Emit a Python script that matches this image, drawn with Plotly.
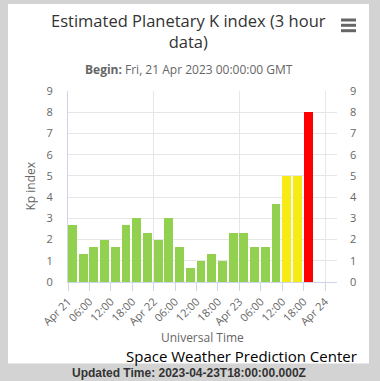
import plotly.graph_objects as go

# ---- data ----
times = [
    "2023-04-21 00:00", "2023-04-21 03:00", "2023-04-21 06:00", "2023-04-21 09:00",
    "2023-04-21 12:00", "2023-04-21 15:00", "2023-04-21 18:00", "2023-04-21 21:00",
    "2023-04-22 00:00", "2023-04-22 03:00", "2023-04-22 06:00", "2023-04-22 09:00",
    "2023-04-22 12:00", "2023-04-22 15:00", "2023-04-22 18:00", "2023-04-22 21:00",
    "2023-04-23 00:00", "2023-04-23 03:00", "2023-04-23 06:00", "2023-04-23 09:00",
    "2023-04-23 12:00", "2023-04-23 15:00", "2023-04-23 18:00",
]
kp = [2.67, 1.33, 1.67, 2.0, 1.67, 2.67, 3.0, 2.33,
      2.0, 3.0, 1.67, 0.67, 1.0, 1.33, 1.0, 2.33,
      2.33, 1.67, 1.67, 3.67, 5.0, 5.0, 8.0]

tick_vals = ["2023-04-21 00:00", "2023-04-21 06:00", "2023-04-21 12:00", "2023-04-21 18:00",
             "2023-04-22 00:00", "2023-04-22 06:00", "2023-04-22 12:00", "2023-04-22 18:00",
             "2023-04-23 00:00", "2023-04-23 06:00", "2023-04-23 12:00", "2023-04-23 18:00",
             "2023-04-24 00:00"]
tick_text = ["Apr 21", "06:00", "12:00", "18:00", "Apr 22", "06:00", "12:00", "18:00",
             "Apr 23", "06:00", "12:00", "18:00", "Apr 24"]
day_lines = ["2023-04-22 00:00", "2023-04-23 00:00", "2023-04-24 00:00"]
y_ticks = list(range(0, 10))

title = "Estimated Planetary K index (3 hour<br>data)"
subtitle = "<b>Begin:</b> Fri, 21 Apr 2023 00:00:00 GMT"
x_title = "Universal Time"
y_title = "Kp index"
credit = "Space Weather Prediction Center"
updated = "<b>Updated Time: 2023-04-23T18:00:00.000Z</b>"


def kp_color(v):
    if v < 5:
        return "#92d050"
    if v < 6:
        return "#f6eb14"
    if v < 7:
        return "#ffc800"
    return "#ff0000"


colors = [kp_color(v) for v in kp]

W, H = 380, 381
L, R, T, B = 68, 337, 91, 282
PW, PH = R - L, B - T


def fx(px):
    return (px - L) / PW


def fy(py):
    return (B - py) / PH


FONT = "Open Sans"
GRAY = "#666666"

fig = go.Figure()
fig.add_trace(go.Bar(
    x=times, y=kp, width=9.0e6, offset=0,
    marker=dict(color=colors, line=dict(width=0)),
    hoverinfo="skip",
))
# mirrored right axis
fig.add_trace(go.Scatter(x=[times[0]], y=[0], yaxis="y2", mode="markers",
                         marker=dict(opacity=0), hoverinfo="skip", showlegend=False))

fig.update_layout(
    width=W, height=H,
    margin=dict(l=L, r=W - R, t=T, b=H - B, pad=0, autoexpand=False),
    paper_bgcolor="#d3d3d3",
    plot_bgcolor="rgba(0,0,0,0)",
    showlegend=False,
    bargap=0,
    font=dict(family=FONT, color=GRAY, size=11),
    xaxis=dict(
        type="date",
        range=["2023-04-21 00:00", "2023-04-24 03:20"],
        tickmode="array", tickvals=tick_vals, ticktext=tick_text,
        tickangle=-45, ticks="outside", ticklen=8, tickcolor="#ccd6eb",
        tickfont=dict(size=11, color=GRAY, family=FONT),
        showgrid=False, zeroline=False,
        showline=True, linecolor="#ccd6eb", linewidth=1,
        minor=dict(tickmode="array", tickvals=day_lines, showgrid=True,
                   gridcolor="#e6e6e6", gridwidth=1, ticks=""),
    ),
    yaxis=dict(
        range=[0, 9], tickmode="array", tickvals=y_ticks,
        showgrid=True, gridcolor="#e6e6e6", gridwidth=1, zeroline=False,
        showline=True, linecolor="#ccd6eb", linewidth=1,
        ticks="", ticklabelstandoff=12,
        tickfont=dict(size=11, color=GRAY, family=FONT),
    ),
    yaxis2=dict(
        range=[0, 9], tickmode="array", tickvals=y_ticks, overlaying="y",
        side="right", showgrid=False, zeroline=False, showline=False,
        ticks="", ticklabelstandoff=12,
        tickfont=dict(size=11, color=GRAY, family=FONT),
    ),
)

shapes = [
    dict(type="rect", xref="paper", yref="paper", layer="below",
         x0=fx(8), x1=fx(369), y0=fy(363.5), y1=fy(4),
         fillcolor="white", line=dict(width=0)),
]
for yy in (20, 25.3, 30.7):
    shapes.append(dict(type="rect", xref="paper", yref="paper",
                       x0=fx(341), x1=fx(356), y0=fy(yy + 1.5), y1=fy(yy - 1.5),
                       fillcolor="#666666", line=dict(width=0)))
fig.update_layout(shapes=shapes)

ann = [
    dict(text=title, x=fx(188), y=fy(31.5), font=dict(size=16.5, color="#333333", family=FONT)),
    dict(text=subtitle, x=fx(189), y=fy(70), font=dict(size=12, color=GRAY, family=FONT)),
    dict(text=x_title, x=fx(202.5), y=fy(337.5), font=dict(size=12, color=GRAY, family=FONT)),
    dict(text=y_title, x=fx(30), y=fy(186.5), textangle=-90, font=dict(size=12, color=GRAY, family=FONT)),
    dict(text=credit, x=fx(358), y=fy(355.5), xanchor="right", font=dict(size=15, color="#000000", family=FONT)),
    dict(text=updated, x=fx(189), y=fy(373), font=dict(size=12, color="#333333", family="Liberation Sans")),
]
for a in ann:
    a.setdefault("xanchor", "center")
    a.update(xref="paper", yref="paper", yanchor="middle", showarrow=False, borderpad=0)
fig.update_layout(annotations=ann)

fig.write_html(
    "out.html",
    config={"displayModeBar": False},
    post_script="document.body.style.margin='0';document.body.style.padding='0';"
                "document.body.style.background='#d3d3d3';",
)
